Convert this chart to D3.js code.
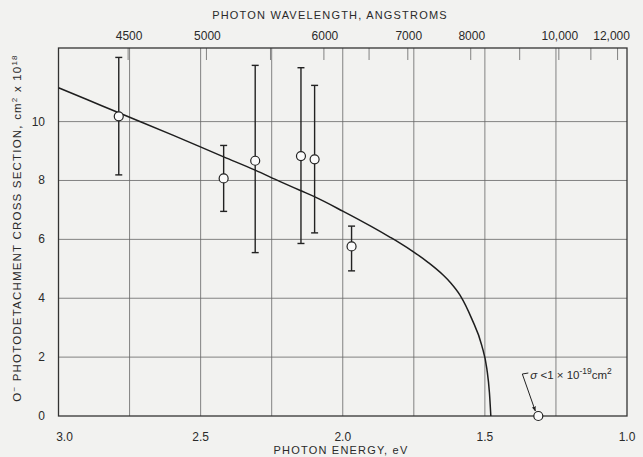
<!DOCTYPE html>
<html lang="en">
<head>
<meta charset="UTF-8">
<title>O- photodetachment cross section</title>
<script src="https://d3js.org/d3.v7.min.js"></script>
<style>
    body { margin: 0; background: #f2f2f0; }
    svg { display: block; font-family: "Liberation Sans", Arial, sans-serif; }
    .grid line { stroke: #666; stroke-width: 0.8px; }
    .lbl { fill: #2a2a2a; font-size: 12px; }
    .title { fill: #2a2a2a; font-size: 11px; letter-spacing: 1.2px; }
</style>
</head>
<body>
<script>
    // measured points (photon energy in eV, cross section in 1e-18 cm^2)
    const energy  = [2.788, 2.419, 2.308, 2.147, 2.099, 1.969];
    const sigma   = [10.18, 8.07, 8.67, 8.83, 8.72, 5.76];
    const errHigh = [12.18, 9.19, 11.91, 11.83, 11.23, 6.45];
    const errLow  = [8.19, 6.95, 5.55, 5.86, 6.22, 4.93];
    const zeroPoint = {e: 1.312, s: 0};

    // theoretical curve
    const curveE = [3.0, 2.9, 2.788, 2.6, 2.419, 2.308, 2.22, 2.147, 2.1, 2.0, 1.9, 1.833, 1.8, 1.75, 1.7, 1.646, 1.62, 1.587, 1.546, 1.511, 1.493, 1.484, 1.479];
    const curveS = [11.15, 10.75, 10.3, 9.55, 8.8, 8.35, 7.96, 7.65, 7.45, 6.96, 6.44, 6.07, 5.88, 5.57, 5.22, 4.78, 4.52, 4.1, 3.3, 2.4, 1.6, 0.8, 0];

    const energyTicks = [3.0, 2.5, 2.0, 1.5, 1.0];
    const energyGrid = [2.75, 2.5, 2.25, 2.0, 1.75, 1.5, 1.25];
    const sigmaTicks = [0, 2, 4, 6, 8, 10];
    const waveTicks = [4500, 5000, 5500, 6000, 6500, 7000, 8000, 9000, 10000, 11000, 12000];
    const waveLabels = [4500, 5000, 6000, 7000, 8000, 10000, 12000];

    const W = 643, H = 457;
    const hc = 12398; // eV * angstrom

    const svg = d3.select("body").append("svg")
        .attr("width", W)
        .attr("height", H);

    const x = d3.scaleLinear().domain([3.0, 1.0]).range([58.5, 627]);
    const y = d3.scaleLinear().domain([0, 12.5]).range([416, 48]);

    // grid
    const grid = svg.append("g").attr("class", "grid");
    grid.selectAll("line.v").data(energyGrid).enter().append("line")
        .attr("x1", d => x(d)).attr("x2", d => x(d))
        .attr("y1", y(0)).attr("y2", y(12.5));
    grid.selectAll("line.h").data(sigmaTicks.filter(d => d > 0)).enter().append("line")
        .attr("x1", x(3)).attr("x2", x(1))
        .attr("y1", d => y(d)).attr("y2", d => y(d));

    // top wavelength ticks
    grid.selectAll("line.w").data(waveTicks).enter().append("line")
        .attr("x1", d => x(hc / d)).attr("x2", d => x(hc / d))
        .attr("y1", y(12.5)).attr("y2", y(12.5) + 12);

    // frame
    svg.append("rect")
        .attr("x", x(3)).attr("y", y(12.5))
        .attr("width", x(1) - x(3)).attr("height", y(0) - y(12.5))
        .attr("fill", "none").attr("stroke", "#333").attr("stroke-width", 1.3);

    // axis labels
    svg.selectAll("text.bx").data(energyTicks).enter().append("text")
        .attr("class", "lbl")
        .attr("x", d => x(d) + (d === 3 ? 6 : 0))
        .attr("y", 441)
        .attr("text-anchor", "middle")
        .text(d => d.toFixed(1));

    svg.selectAll("text.ly").data(sigmaTicks).enter().append("text")
        .attr("class", "lbl")
        .attr("x", 45)
        .attr("y", d => y(d) + 4)
        .attr("text-anchor", "end")
        .text(d => d);

    svg.selectAll("text.tw").data(waveLabels).enter().append("text")
        .attr("class", "lbl")
        .attr("x", d => x(hc / d) + (d === 12000 ? -6 : 1))
        .attr("y", 40)
        .attr("text-anchor", "middle")
        .text(d => d >= 10000 ? d3.format(",")(d) : d);

    // titles
    svg.append("text").attr("class", "title")
        .attr("x", 330).attr("y", 19)
        .attr("text-anchor", "middle")
        .text("PHOTON WAVELENGTH, ANGSTROMS");

    svg.append("text").attr("class", "title")
        .attr("x", 341).attr("y", 454)
        .attr("text-anchor", "middle")
        .text("PHOTON ENERGY, eV");

    const yt = svg.append("text").attr("class", "title")
        .attr("transform", "translate(21," + ((y(0) + y(12.5)) / 2 - 4) + ") rotate(-90)")
        .attr("text-anchor", "middle")
        .style("font-size", "11.5px");
    yt.append("tspan").text("O");
    yt.append("tspan").attr("dy", -4).attr("font-size", 8).text("\u2212");
    yt.append("tspan").attr("dy", 4).text(" PHOTODETACHMENT CROSS SECTION, cm");
    yt.append("tspan").attr("dy", -4).attr("font-size", 8).text("2");
    yt.append("tspan").attr("dy", 4).text(" x 10");
    yt.append("tspan").attr("dy", -4).attr("font-size", 8).text("18");

    // curve
    const line = d3.line()
        .x(d => x(d[0]))
        .y(d => y(d[1]))
        .curve(d3.curveMonotoneX);
    svg.append("path")
        .datum(curveE.map((e, i) => [e, curveS[i]]))
        .attr("d", line)
        .attr("fill", "none")
        .attr("stroke", "#1e1e1e")
        .attr("stroke-width", 1.5);

    // error bars and points
    const pts = energy.map((e, i) => ({e: e, s: sigma[i], hi: errHigh[i], lo: errLow[i]}));
    const eb = svg.append("g").attr("stroke", "#222").attr("stroke-width", 1.4);
    eb.selectAll("line.bar").data(pts).enter().append("line")
        .attr("x1", d => x(d.e)).attr("x2", d => x(d.e))
        .attr("y1", d => y(d.hi)).attr("y2", d => y(d.lo));
    eb.selectAll("line.capH").data(pts).enter().append("line")
        .attr("x1", d => x(d.e) - 3.5).attr("x2", d => x(d.e) + 3.5)
        .attr("y1", d => y(d.hi)).attr("y2", d => y(d.hi));
    eb.selectAll("line.capL").data(pts).enter().append("line")
        .attr("x1", d => x(d.e) - 3.5).attr("x2", d => x(d.e) + 3.5)
        .attr("y1", d => y(d.lo)).attr("y2", d => y(d.lo));

    svg.selectAll("circle.pt").data(pts.concat([zeroPoint])).enter().append("circle")
        .attr("cx", d => x(d.e))
        .attr("cy", d => y(d.s))
        .attr("r", 4.5)
        .attr("fill", "#fbfbfb")
        .attr("stroke", "#222")
        .attr("stroke-width", 1.2);

    // annotation for the zero point
    const zx = x(zeroPoint.e), zy = y(zeroPoint.s);
    svg.append("defs").append("marker")
        .attr("id", "arr")
        .attr("viewBox", "0 0 10 10")
        .attr("refX", 9).attr("refY", 5)
        .attr("markerWidth", 5).attr("markerHeight", 5)
        .attr("orient", "auto")
        .append("path").attr("d", "M0,1 L10,5 L0,9 Z").attr("fill", "#222");
    svg.append("path")
        .attr("d", "M" + (zx - 10) + "," + (zy - 43) + " L" + (zx - 16) + "," + (zy - 42) + " L" + (zx - 3) + "," + (zy - 5))
        .attr("fill", "none")
        .attr("stroke", "#222")
        .attr("stroke-width", 1)
        .attr("marker-end", "url(#arr)");

    const an = svg.append("text")
        .attr("x", zx - 8).attr("y", zy - 37)
        .attr("fill", "#2a2a2a")
        .attr("font-size", 11.5);
    an.append("tspan").attr("font-style", "italic").text("\u03c3");
    an.append("tspan").text(" <1 \u00d7 10");
    an.append("tspan").attr("dy", -5).attr("font-size", 8.5).text("-19");
    an.append("tspan").attr("dy", 5).text("cm");
    an.append("tspan").attr("dy", -5).attr("font-size", 8.5).text("2");
</script>
</body>
</html>
